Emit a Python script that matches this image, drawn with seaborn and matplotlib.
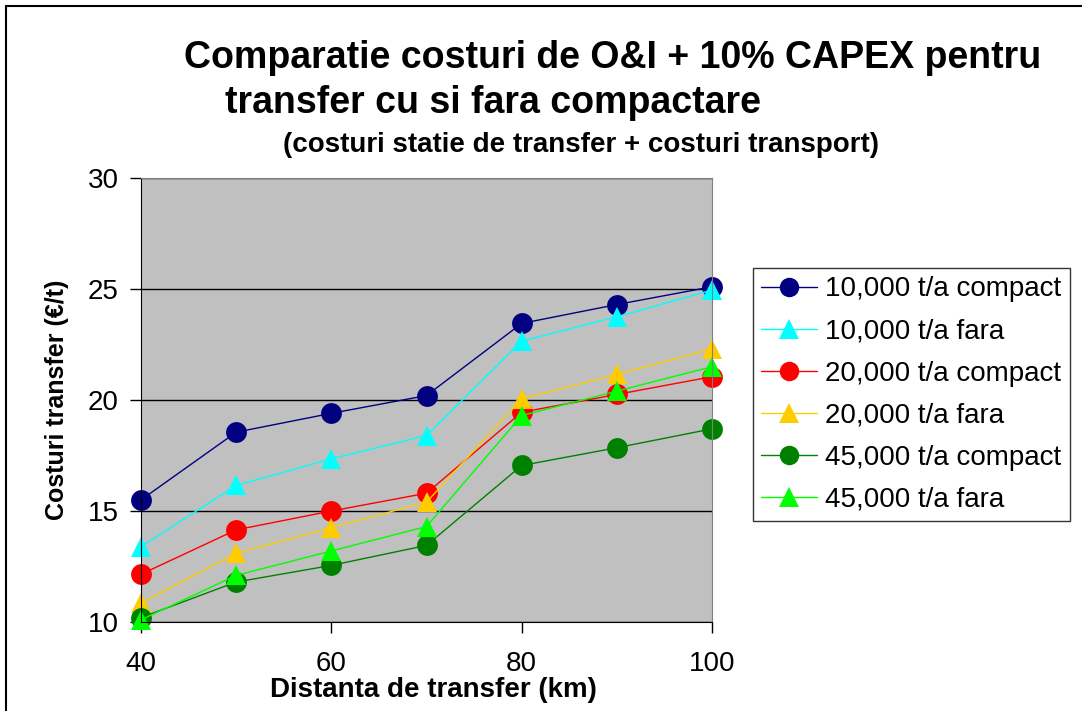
import pandas as pd
import seaborn as sns
import matplotlib.pyplot as plt
from matplotlib.patches import Rectangle

# Values
distance = [40, 50, 60, 70, 80, 90, 100]
c10_compact = [15.5, 18.55, 19.4, 20.2, 23.45, 24.3, 25.1]
c10_fara = [13.4, 16.15, 17.35, 18.4, 22.65, 23.75, 24.95]
c20_compact = [12.15, 14.15, 15.0, 15.8, 19.45, 20.25, 21.05]
c20_fara = [10.85, 13.1, 14.25, 15.4, 20.05, 21.15, 22.3]
c45_compact = [10.2, 11.8, 12.55, 13.45, 17.05, 17.85, 18.7]
c45_fara = [10.1, 12.1, 13.2, 14.3, 19.3, 20.4, 21.5]

series = ['10,000 t/a compact', '10,000 t/a fara', '20,000 t/a compact',
          '20,000 t/a fara', '45,000 t/a compact', '45,000 t/a fara']
values = [c10_compact, c10_fara, c20_compact, c20_fara, c45_compact, c45_fara]
colors = ['#000080', '#00FFFF', '#FF0000', '#FFCC00', '#008000', '#00FF00']
markers = ['o', '^', 'o', '^', 'o', '^']

rows = []
for name, vals in zip(series, values):
    for d, v in zip(distance, vals):
        rows.append({'Distanta': d, 'Cost': v, 'Serie': name})
data = pd.DataFrame(rows)

sns.set_style('white')
plt.rcParams['font.family'] = ['Liberation Sans', 'DejaVu Sans']
plt.rcParams['text.color'] = 'black'
plt.rcParams['xtick.color'] = 'black'
plt.rcParams['ytick.color'] = 'black'
plt.rcParams['axes.labelcolor'] = 'black'

fig = plt.figure(figsize=(10.82, 7.11), dpi=100)
ax = fig.add_axes([141 / 1082, 1 - 622 / 711, (712 - 141) / 1082, (622 - 178) / 711])

sns.lineplot(data=data, x='Distanta', y='Cost', hue='Serie', style='Serie',
             hue_order=series, style_order=series,
             palette=dict(zip(series, colors)),
             markers=dict(zip(series, markers)), dashes=False,
             markersize=15, markeredgewidth=0, linewidth=1, ax=ax, legend=False)

ax.set_facecolor('#C0C0C0')
ax.set_xlim(40, 100)
ax.set_ylim(10, 30)
ax.set_xticks([40, 60, 80, 100])
ax.set_yticks([10, 15, 20, 25, 30])
ax.yaxis.grid(True, color='black', linewidth=1)
ax.set_axisbelow(True)
for s in ['top', 'right']:
    ax.spines[s].set_color('#808080')
for s in ['left', 'bottom']:
    ax.spines[s].set_color('black')
ax.tick_params(axis='both', direction='out', length=8, width=1, color='black',
               labelsize=20, bottom=True, left=True)
ax.tick_params(axis='x', pad=13)
ax.tick_params(axis='y', pad=8)
for line in ax.lines:
    line.set_clip_on(False)

ax.set_xlabel('Distanta de transfer (km)', fontsize=20, fontweight='bold')
ax.set_ylabel('Costuri transfer (€/t)', fontsize=18, fontweight='bold')
ax.xaxis.set_label_coords(0.513, -0.153)
ax.yaxis.set_label_coords(-0.147, 0.5)
ax.xaxis.label.set_va('center')
ax.yaxis.label.set_va('center')

handles = [plt.Line2D([], [], color=c, marker=m, markersize=14, markeredgewidth=0,
                      linewidth=1) for c, m in zip(colors, markers)]
leg = fig.legend(handles, series, loc='upper left',
                 bbox_to_anchor=(753 / 1082, 1 - 268 / 711),
                 fontsize=20, frameon=True, fancybox=False, handlelength=2.0,
                 handletextpad=0.3, borderpad=0.3, labelspacing=0.58,
                 borderaxespad=0)
leg.get_frame().set_edgecolor('black')
leg.get_frame().set_linewidth(1)

fig.text(613 / 1082, 1 - 58 / 711, 'Comparatie costuri de O&I + 10% CAPEX pentru',
         ha='center', va='center', fontsize=27, fontweight='bold')
fig.text(225 / 1082, 1 - 103 / 711, 'transfer cu si fara compactare',
         ha='left', va='center', fontsize=27, fontweight='bold')
fig.text(283 / 1082, 1 - 145 / 711, '(costuri statie de transfer + costuri transport)',
         ha='left', va='center', fontsize=20, fontweight='bold')

fig.patches.append(Rectangle((6 / 1082, -0.01), 1.02, 1 - 6 / 711 + 0.01,
                             transform=fig.transFigure, fill=False,
                             edgecolor='black', linewidth=1.5))

fig.savefig('out.png', dpi=100)
